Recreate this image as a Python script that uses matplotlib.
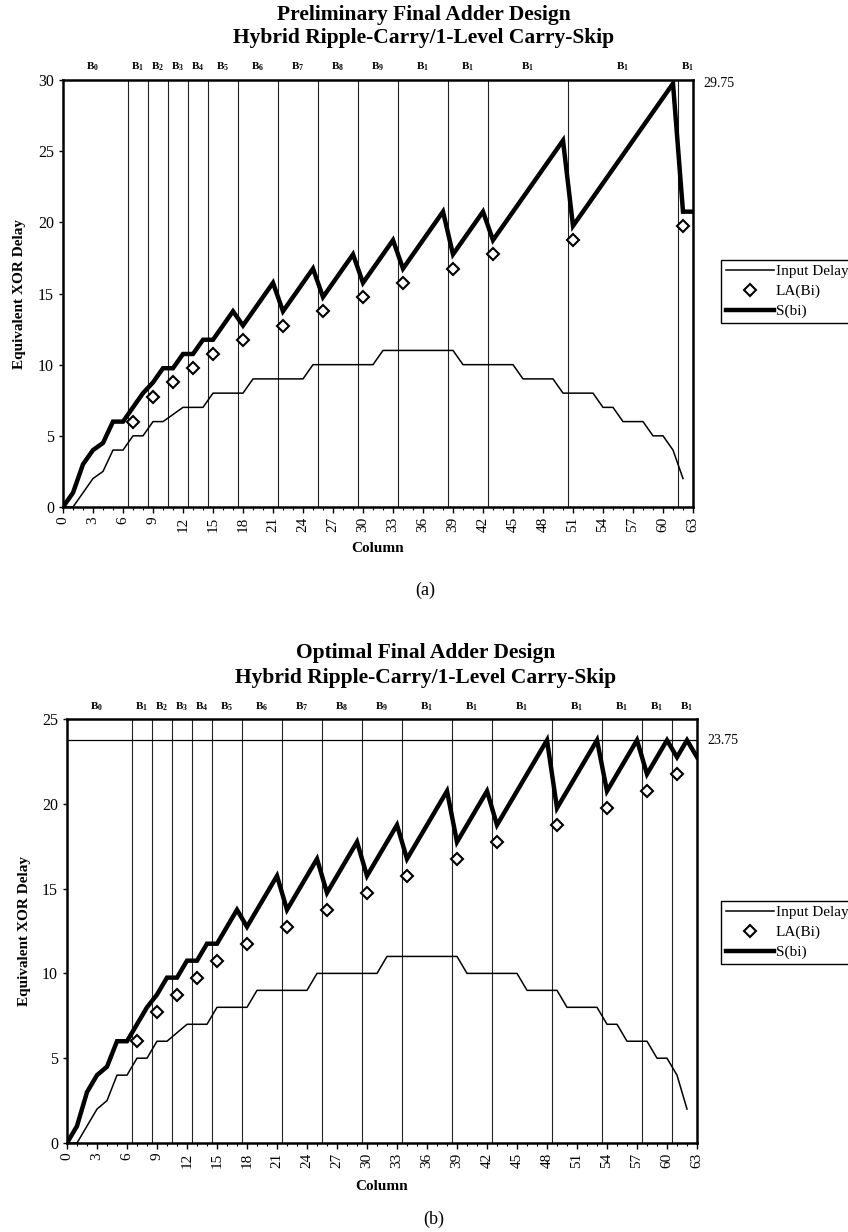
import matplotlib
matplotlib.use("Agg")
from matplotlib import pyplot as plt
from matplotlib.lines import Line2D

plt.rcParams['font.family'] = ['Liberation Serif', 'DejaVu Serif']
plt.rcParams['mathtext.default'] = 'regular'

W, H = 848, 1232

columns = list(range(64))

# input delay per column (cols 0..62)
input_delay = [0, 0, 1, 2, 2.5, 4, 4, 5, 5, 6, 6, 6.5, 7, 7, 7, 8, 8, 8, 8, 9,
               9, 9, 9, 9, 9, 10, 10, 10, 10, 10, 10, 10, 11, 11, 11, 11, 11, 11, 11, 11,
               10, 10, 10, 10, 10, 10, 9, 9, 9, 9, 8, 8, 8, 8, 7, 7, 6, 6, 6, 5,
               5, 4, 2]

# (a) preliminary design
s_prelim = [0, 1, 3, 4, 4.5, 6, 6, 7, 8, 8.75, 9.75, 9.75, 10.75, 10.75, 11.75, 11.75,
            12.75, 13.75, 12.75, 13.75, 14.75, 15.75, 13.75, 14.75, 15.75, 16.75,
            14.75, 15.75, 16.75, 17.75, 15.75, 16.75, 17.75, 18.75,
            16.75, 17.75, 18.75, 19.75, 20.75, 17.75, 18.75, 19.75, 20.75,
            18.75, 19.75, 20.75, 21.75, 22.75, 23.75, 24.75, 25.75,
            19.75, 20.75, 21.75, 22.75, 23.75, 24.75, 25.75, 26.75, 27.75, 28.75, 29.75,
            20.75, 20.75]
la_cols_prelim = [7, 9, 11, 13, 15, 18, 22, 26, 30, 34, 39, 43, 51, 62]
la_prelim = [6, 7.75, 8.75, 9.75, 10.75, 11.75, 12.75, 13.75, 14.75, 15.75,
             16.75, 17.75, 18.75, 19.75]
bounds_prelim = [6.5, 8.5, 10.5, 12.5, 14.5, 17.5, 21.5, 25.5, 29.5, 33.5, 38.5,
                 42.5, 50.5, 61.5]
labels_prelim = ['B$_0$', 'B$_1$', 'B$_2$', 'B$_3$', 'B$_4$', 'B$_5$', 'B$_6$', 'B$_7$',
                 'B$_8$', 'B$_9$', 'B$_1$', 'B$_1$', 'B$_1$', 'B$_1$', 'B$_1$']

# (b) optimal design
s_opt = [0, 1, 3, 4, 4.5, 6, 6, 7, 8, 8.75, 9.75, 9.75, 10.75, 10.75, 11.75, 11.75,
         12.75, 13.75, 12.75, 13.75, 14.75, 15.75, 13.75, 14.75, 15.75, 16.75,
         14.75, 15.75, 16.75, 17.75, 15.75, 16.75, 17.75, 18.75,
         16.75, 17.75, 18.75, 19.75, 20.75, 17.75, 18.75, 19.75, 20.75,
         18.75, 19.75, 20.75, 21.75, 22.75, 23.75,
         19.75, 20.75, 21.75, 22.75, 23.75,
         20.75, 21.75, 22.75, 23.75,
         21.75, 22.75, 23.75,
         22.75, 23.75, 22.75]
la_cols_opt = [7, 9, 11, 13, 15, 18, 22, 26, 30, 34, 39, 43, 49, 54, 58, 61]
la_opt = [6, 7.75, 8.75, 9.75, 10.75, 11.75, 12.75, 13.75, 14.75, 15.75,
          16.75, 17.75, 18.75, 19.75, 20.75, 21.75]
bounds_opt = [6.5, 8.5, 10.5, 12.5, 14.5, 17.5, 21.5, 25.5, 29.5, 33.5, 38.5,
              42.5, 48.5, 53.5, 57.5, 60.5]
labels_opt = ['B$_0$', 'B$_1$', 'B$_2$', 'B$_3$', 'B$_4$', 'B$_5$', 'B$_6$', 'B$_7$',
              'B$_8$', 'B$_9$', 'B$_1$', 'B$_1$', 'B$_1$', 'B$_1$', 'B$_1$', 'B$_1$', 'B$_1$']


def fx(px):
    return px / W


def fy(py):
    return 1 - py / H


def draw_panel(ax, s_vals, la_cols, la_vals, bounds, labels, ymax, top_val, top_line):
    ax.plot(columns[:len(input_delay)], input_delay, color='black', lw=1.1, zorder=3)
    ax.plot(la_cols, la_vals, linestyle='none', marker='D', ms=6.5, mfc='white',
            mec='black', mew=1.5, zorder=4)
    ax.plot(columns, s_vals, color='black', lw=3.2, zorder=3, solid_joinstyle='miter')
    for b in bounds:
        ax.axvline(b, color='#222222', lw=0.8, zorder=1)
    if top_line:
        ax.axhline(top_val, color='black', lw=0.9, zorder=1)
    edges = [-0.5] + bounds + [63.5]
    for i, lab in enumerate(labels):
        mid = (edges[i] + edges[i + 1]) / 2
        ax.text(mid, 1.03, lab, transform=ax.get_xaxis_transform(), ha='center',
                va='center', fontsize=8, weight='bold')
    ax.text(1.016, top_val, '%.2f' % top_val, transform=ax.get_yaxis_transform(),
            ha='left', va='center', fontsize=10)
    ax.set_xlim(0, 63)
    ax.set_ylim(0, ymax)
    ax.set_xticks(range(0, 64, 3))
    ax.set_xticks(range(0, 64), minor=True)
    ax.set_yticks(range(0, ymax + 1, 5))
    ax.tick_params(axis='x', which='major', labelrotation=90, labelsize=11,
                   length=4, width=1, pad=3)
    ax.tick_params(axis='x', which='minor', length=2.5, width=0.8)
    ax.tick_params(axis='y', labelsize=11.5, length=3, width=1)
    for sp in ax.spines.values():
        sp.set_linewidth(1.8)


fig = plt.figure(figsize=(W / 100, H / 100), dpi=100)

ax1 = fig.add_axes([fx(63), fy(507), 630 / W, 427 / H])
draw_panel(ax1, s_prelim, la_cols_prelim, la_prelim, bounds_prelim, labels_prelim,
           30, 29.75, False)
ax2 = fig.add_axes([fx(67), fy(1143), 630 / W, 424 / H])
draw_panel(ax2, s_opt, la_cols_opt, la_opt, bounds_opt, labels_opt, 25, 23.75, True)

# titles
fig.text(fx(424), fy(15), 'Preliminary Final Adder Design', ha='center', va='center',
         fontsize=15.5, weight='bold')
fig.text(fx(424), fy(38), 'Hybrid Ripple-Carry/1-Level Carry-Skip', ha='center',
         va='center', fontsize=15.5, weight='bold')
fig.text(fx(426), fy(653), 'Optimal Final Adder Design', ha='center', va='center',
         fontsize=15.5, weight='bold')
fig.text(fx(426), fy(678), 'Hybrid Ripple-Carry/1-Level Carry-Skip', ha='center',
         va='center', fontsize=15.5, weight='bold')

# axis labels
fig.text(fx(20), fy(294), 'Equivalent XOR Delay', rotation=90, ha='center', va='center',
         fontsize=11, weight='bold')
fig.text(fx(25), fy(931), 'Equivalent XOR Delay', rotation=90, ha='center', va='center',
         fontsize=11, weight='bold')
fig.text(fx(378), fy(548), 'Column', ha='center', va='center', fontsize=11, weight='bold')
fig.text(fx(382), fy(1187), 'Column', ha='center', va='center', fontsize=11, weight='bold')

fig.text(fx(425), fy(590), '(a)', ha='center', va='center', fontsize=13)
fig.text(fx(434), fy(1219), '(b)', ha='center', va='center', fontsize=13)

# legends
handles = [Line2D([], [], color='black', lw=1.1),
           Line2D([], [], linestyle='none', marker='D', ms=6.5, mfc='white', mec='black', mew=1.5),
           Line2D([], [], color='black', lw=3.2)]
names = ['Input Delay', 'LA(Bi)', 'S(bi)']
for top in (260, 901):
    leg = fig.legend(handles, names, loc='upper left', bbox_to_anchor=(fx(721), fy(top)),
                     borderaxespad=0, fancybox=False, edgecolor='black', fontsize=11,
                     handlelength=3.2, handletextpad=0.1, labelspacing=0.4, borderpad=0.3,
                     framealpha=1)
    leg.get_frame().set_linewidth(1.0)

fig.savefig('out.png', dpi=100)
